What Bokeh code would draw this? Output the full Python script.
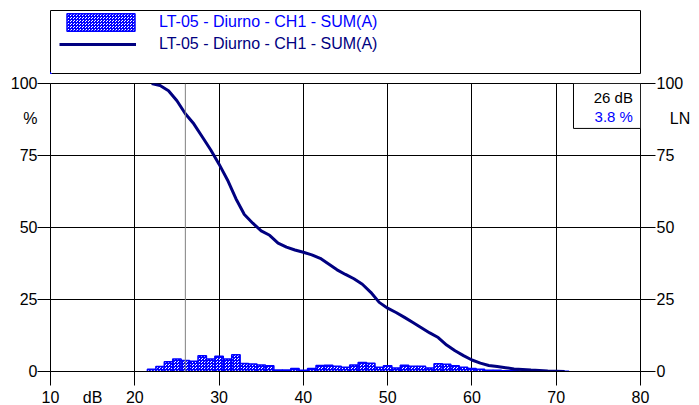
from bokeh.plotting import figure
from bokeh.models import (Range1d, FixedTicker, LinearAxis, Legend, LegendItem,
                          BoxAnnotation, Label, Span, CustomLabelingPolicy)
from bokeh.layouts import column
from bokeh.embed import file_html
from bokeh.resources import INLINE

FONT = "Liberation Sans"
BLUE = "#0000ff"
NAVY = "#000080"
NBSP = "\u00a0"

series_name = "LT-05 - Diurno - CH1 - SUM(A)"
level_db = list(range(22, 72))
hist_pct = [0.8, 1.7, 3.4, 4.3, 3.8, 3.6, 5.5, 4.3, 5.3, 4.3,
            5.8, 2.8, 2.6, 2.3, 2.0, 0.5, 0.5, 1.0, 0.4, 1.0,
            2.1, 2.2, 1.8, 1.5, 2.3, 3.1, 2.9, 1.5, 2.0, 1.2,
            2.2, 1.8, 1.8, 1.2, 2.7, 2.5, 2.0, 1.5, 1.0, 0.8,
            0.4, 0.4, 0.3, 0.3, 0.2, 0.2, 0.15, 0.1, 0.1, 0.05]
ln_pct = [100, 99.3, 97.5, 94, 89.5, 86, 81.5, 77, 72, 66.5,
          60, 54.5, 51.5, 48.8, 47.3, 44.6, 43.2, 42.2, 41.4, 40.5,
          39.3, 37.3, 35.3, 33.7, 32.2, 30.3, 27.5, 24, 22, 20.5,
          18.8, 17, 15.2, 13.4, 11.8, 9.2, 7.2, 5.5, 4.0, 2.9,
          2.1, 1.7, 1.3, 0.9, 0.7, 0.5, 0.35, 0.2, 0.1, 0.0]
x_ticks = [10, 20, 30, 40, 50, 60, 70, 80]
y_ticks = [0, 25, 50, 75, 100]
x_grid = [20, 30, 40, 50, 60, 70]
y_grid = [25, 50, 75]
x_unit, x_unit_pos = "dB", 15
y_unit_left, y_unit_right, y_unit_pos = "%", "LN", 88
cursor_db = 26
cursor_pct = 3.8

W = 695
B_LEFT = 50
B_RIGHT = W - 640

bar_style = dict(fill_color="white", hatch_pattern="criss_cross", hatch_color=BLUE,
                 hatch_scale=3, hatch_weight=1, line_color=BLUE, line_width=1.5)

# ---------- legend panel ----------
leg = figure(width=W, height=76, x_axis_type=None, y_axis_type=None,
             x_range=Range1d(1000, 1001), y_range=Range1d(1000, 1001),
             toolbar_location=None, output_backend="svg",
             min_border_left=B_LEFT - 1, min_border_right=B_RIGHT,
             min_border_top=10, min_border_bottom=3)
leg.outline_line_color = "black"
leg.outline_line_width = 1
# renderers kept out of view; they only supply the legend glyphs
r_bar = leg.vbar(x=level_db, top=hist_pct, width=1, **bar_style)
r_line = leg.line(x=level_db, y=ln_pct, line_color=NAVY, line_width=3)
common = dict(padding=0, margin=0, border_line_color=None, background_fill_alpha=0,
              label_text_font=FONT, label_text_font_size="16px", spacing=0)
leg1 = Legend(items=[LegendItem(label=series_name, renderers=[r_bar])],
              location=(8, 40), glyph_width=85, glyph_height=22, label_height=22,
              label_standoff=16, label_text_color=BLUE, **common)
leg2 = Legend(items=[LegendItem(label=series_name, renderers=[r_line])],
              location=(9, 19), glyph_width=77, glyph_height=20, label_height=20,
              label_standoff=23, label_text_color=NAVY, **common)
leg.add_layout(leg1)
leg.add_layout(leg2)

# ---------- main plot ----------
p = figure(width=W, height=335, x_range=Range1d(10, 80), y_range=Range1d(0, 100),
           toolbar_location=None, output_backend="svg",
           min_border_left=B_LEFT, min_border_right=B_RIGHT,
           min_border_top=7, min_border_bottom=40)
p.outline_line_color = "black"
p.outline_line_width = 1
p.background_fill_color = "white"

p.xgrid.ticker = FixedTicker(ticks=x_grid)
p.ygrid.ticker = FixedTicker(ticks=y_grid)
for g in (p.xgrid, p.ygrid):
    g.grid_line_color = "black"
    g.grid_line_width = 1

no_labels = CustomLabelingPolicy(code="""
    for (const i of indices) { indices.unset(i) }
    return indices
""")


def tick_axis(ax, tick_out):
    """axis that draws only the tick marks"""
    ax.major_tick_out = tick_out
    ax.major_tick_in = 0
    ax.minor_tick_out = 0
    ax.minor_tick_in = 0
    ax.axis_line_color = "black"
    ax.major_tick_line_color = "black"
    ax.major_label_text_font_size = "0px"
    ax.major_label_standoff = 0
    ax.major_label_policy = no_labels


def label_axis(ax, standoff):
    """axis that draws only the labels"""
    ax.major_tick_out = 0
    ax.major_tick_in = 0
    ax.minor_tick_out = 0
    ax.minor_tick_in = 0
    ax.axis_line_color = None
    ax.major_tick_line_color = None
    ax.minor_tick_line_color = None
    ax.major_label_text_font = FONT
    ax.major_label_text_font_size = "16px"
    ax.major_label_text_color = "black"
    ax.major_label_standoff = standoff


# inner (tick-only) axes
p.xaxis.ticker = FixedTicker(ticks=x_ticks)
tick_axis(p.xaxis[0], 14)
p.yaxis.ticker = FixedTicker(ticks=y_ticks)
tick_axis(p.yaxis[0], 13)
right_ticks = LinearAxis(ticker=FixedTicker(ticks=y_ticks))
tick_axis(right_ticks, 15)
p.add_layout(right_ticks, "right")

# outer (label-only) axes, carrying the unit names as extra labels
bottom_lab = LinearAxis(ticker=FixedTicker(ticks=x_ticks + [x_unit_pos]),
                        major_label_overrides={x_unit_pos: x_unit})
label_axis(bottom_lab, 3)
p.add_layout(bottom_lab, "below")

left_lab = LinearAxis(ticker=FixedTicker(ticks=y_ticks + [y_unit_pos]),
                      major_label_overrides={y_unit_pos: y_unit_left})
label_axis(left_lab, 0)
p.add_layout(left_lab, "left")

right_lab = LinearAxis(ticker=FixedTicker(ticks=y_ticks + [y_unit_pos]),
                       major_label_overrides={y_unit_pos: NBSP * 3 + y_unit_right})
label_axis(right_lab, 1)
p.add_layout(right_lab, "right")

p.add_layout(Span(location=cursor_db, dimension="height", line_color="#808080", line_width=1))

p.vbar(x=level_db, top=hist_pct, width=1, bottom=0, **bar_style)
p.line(x=level_db, y=ln_pct, line_color=NAVY, line_width=3)

p.add_layout(BoxAnnotation(left=72.05, right=80, bottom=84.4, top=100,
                           fill_color="white", fill_alpha=1, line_color="black",
                           line_alpha=1, line_width=1))
p.add_layout(Label(x=79.1, y=95.1, text=f"{cursor_db} dB", text_align="right",
                   text_baseline="middle", text_font=FONT, text_font_size="15px",
                   text_color="black"))
p.add_layout(Label(x=79.1, y=88.5, text=f"{cursor_pct} %", text_align="right",
                   text_baseline="middle", text_font=FONT, text_font_size="15px",
                   text_color=BLUE))

layout = column(leg, p, spacing=0)
open("out.html", "w").write(file_html(layout, INLINE))
